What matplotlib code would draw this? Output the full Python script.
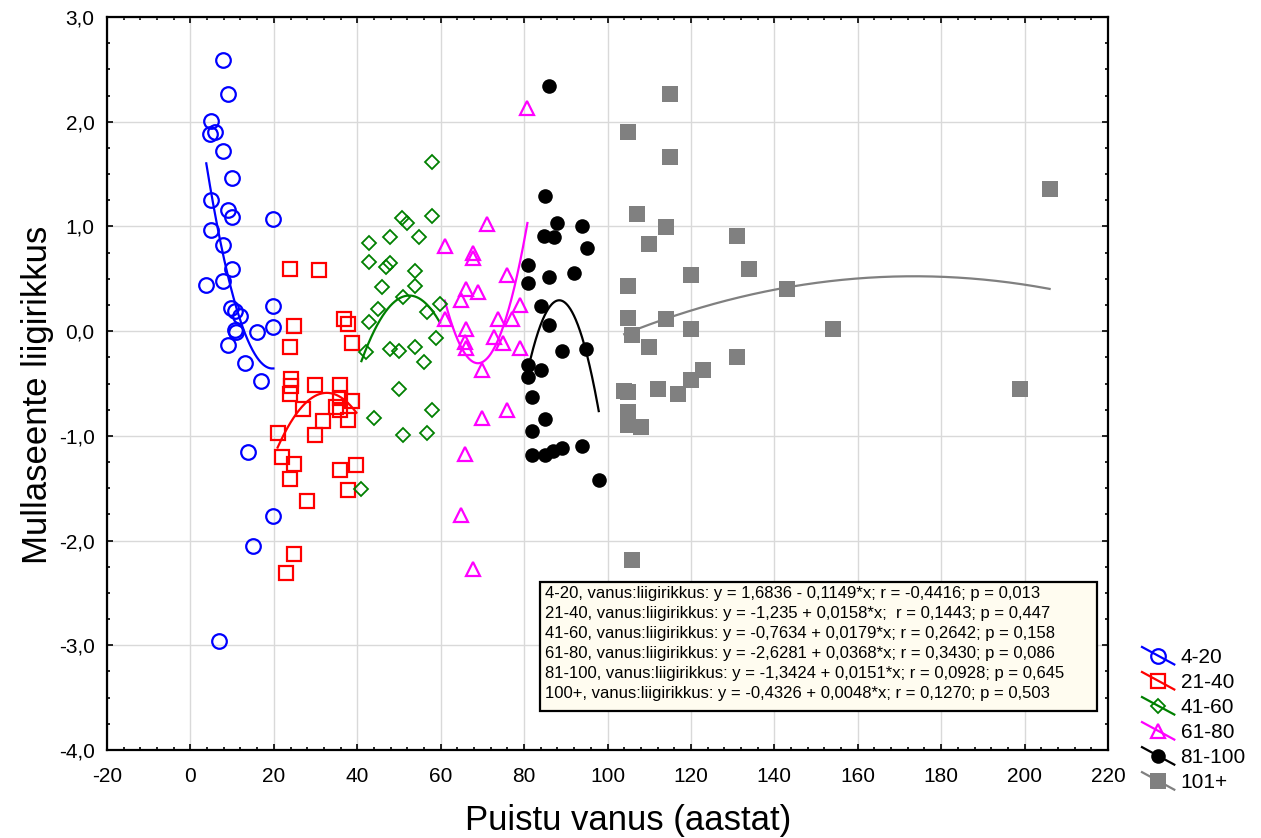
import numpy as np
import matplotlib
matplotlib.use("Agg")
import matplotlib.pyplot as plt
from matplotlib.lines import Line2D
from matplotlib.patches import Rectangle
from matplotlib.legend_handler import HandlerLine2D
from matplotlib.ticker import MultipleLocator, FuncFormatter

plt.rcParams['font.family'] = ['Liberation Sans', 'DejaVu Sans']

# ---------------- data ----------------
x_4_20 = [7.8, 8.9, 5.0, 6.0, 4.8, 7.8, 9.9, 4.9, 8.9, 10.0, 19.9, 4.9, 7.8, 9.9, 3.8, 7.8,
          9.8, 10.8, 11.8, 19.9, 10.8, 11.0, 16.0, 19.9, 8.9, 13.0, 16.9, 13.9, 19.9, 14.9, 6.9]
y_4_20 = [2.59, 2.26, 2.01, 1.90, 1.88, 1.72, 1.46, 1.25, 1.16, 1.09, 1.07, 0.97, 0.82, 0.59, 0.44, 0.48,
          0.22, 0.19, 0.14, 0.24, 0.01, -0.01, -0.01, 0.04, -0.13, -0.30, -0.48, -1.15, -1.77, -2.05, -2.96]

x_21_40 = [23.9, 30.8, 36.8, 37.7, 24.8, 23.9, 38.8, 24.0, 24.0, 23.9, 29.8, 35.8, 27.0, 31.8, 34.8,
           35.9, 35.9, 38.8, 37.8, 20.9, 29.8, 21.9, 24.8, 23.9, 35.9, 39.8, 37.8, 27.9, 24.8, 22.9]
y_21_40 = [0.59, 0.58, 0.12, 0.07, 0.05, -0.15, -0.11, -0.46, -0.52, -0.60, -0.51, -0.51, -0.74, -0.86, -0.72,
           -0.64, -0.75, -0.67, -0.85, -0.97, -0.99, -1.20, -1.27, -1.41, -1.33, -1.28, -1.52, -1.62, -2.13, -2.31]

x_41_60 = [57.9, 57.9, 50.7, 52.0, 42.9, 47.9, 54.9, 42.9, 47.9, 46.9, 53.9, 53.9, 46.0, 50.9, 44.9,
           59.8, 56.8, 42.9, 58.9, 42.0, 47.9, 49.9, 53.9, 55.9, 49.9, 57.9, 44.0, 50.9, 56.8, 41.0]
y_41_60 = [1.62, 1.10, 1.08, 1.03, 0.84, 0.90, 0.90, 0.66, 0.65, 0.61, 0.57, 0.43, 0.42, 0.33, 0.21,
           0.26, 0.18, 0.09, -0.07, -0.20, -0.17, -0.19, -0.15, -0.29, -0.55, -0.75, -0.83, -0.99, -0.97, -1.51]

x_61_80 = [80.8, 71.0, 61.0, 67.8, 67.8, 75.9, 66.0, 68.9, 64.8, 79.0, 73.8, 77.0, 61.0, 66.0, 72.8,
           75.0, 65.8, 66.0, 79.0, 69.8, 75.9, 69.8, 65.8, 64.8, 67.8]
y_61_80 = [2.13, 1.02, 0.81, 0.75, 0.70, 0.54, 0.40, 0.37, 0.30, 0.25, 0.12, 0.12, 0.12, 0.02, -0.06,
           -0.11, -0.10, -0.16, -0.16, -0.37, -0.75, -0.83, -1.17, -1.76, -2.27]

x_81_100 = [86.0, 85.0, 88.0, 93.9, 84.8, 87.2, 95.0, 81.0, 92.0, 86.0, 81.0, 84.0, 86.0, 89.0,
            94.9, 81.0, 84.0, 81.0, 82.0, 85.0, 82.0, 82.0, 85.0, 87.0, 89.0, 93.9, 97.9]
y_81_100 = [2.34, 1.29, 1.03, 1.00, 0.91, 0.90, 0.79, 0.63, 0.56, 0.52, 0.46, 0.24, 0.06, -0.19,
            -0.17, -0.32, -0.37, -0.44, -0.63, -0.84, -0.95, -1.18, -1.18, -1.14, -1.12, -1.10, -1.42]

x_101 = [114.9, 105.0, 114.9, 107.0, 114.0, 110.0, 131.0, 120.0, 133.9, 105.0, 143.0, 105.0, 114.0, 120.0,
         154.1, 105.9, 110.0, 131.0, 123.0, 120.0, 112.0, 116.9, 104.0, 105.0, 105.0, 105.0, 108.0, 105.9,
         199.0, 206.0]
y_101 = [2.26, 1.90, 1.66, 1.12, 0.99, 0.83, 0.91, 0.54, 0.59, 0.43, 0.40, 0.13, 0.12, 0.02,
         0.02, -0.04, -0.15, -0.25, -0.37, -0.47, -0.55, -0.60, -0.57, -0.58, -0.77, -0.90, -0.92, -2.19,
         -0.55, 1.36]

group_labels = ['4-20', '21-40', '41-60', '61-80', '81-100', '101+']
box_lines = [
    '4-20, vanus:liigirikkus: y = 1,6836 - 0,1149*x; r = -0,4416; p = 0,013',
    '21-40, vanus:liigirikkus: y = -1,235 + 0,0158*x;  r = 0,1443; p = 0,447',
    '41-60, vanus:liigirikkus: y = -0,7634 + 0,0179*x; r = 0,2642; p = 0,158',
    '61-80, vanus:liigirikkus: y = -2,6281 + 0,0368*x; r = 0,3430; p = 0,086',
    '81-100, vanus:liigirikkus: y = -1,3424 + 0,0151*x; r = 0,0928; p = 0,645',
    '100+, vanus:liigirikkus: y = -0,4326 + 0,0048*x; r = 0,1270; p = 0,503',
]
x_label = 'Puistu vanus (aastat)'
y_label = 'Mullaseente liigirikkus'

# ---------------- styles ----------------
styles = [
    dict(color='#0000ff', marker='o', ms=10.5, mfc='none', mew=1.6),
    dict(color='#ff0000', marker='s', ms=10.0, mfc='none', mew=1.6),
    dict(color='#008000', marker='D', ms=7.2, mfc='none', mew=1.3),
    dict(color='#ff00ff', marker='^', ms=10.0, mfc='none', mew=1.6),
    dict(color='#000000', marker='o', ms=10.5, mfc='#000000', mew=0),
    dict(color='#808080', marker='s', ms=11.5, mfc='#808080', mew=0),
]
groups = [(x_4_20, y_4_20), (x_21_40, y_21_40), (x_41_60, y_41_60),
          (x_61_80, y_61_80), (x_81_100, y_81_100), (x_101, y_101)]


class DiagHandler(HandlerLine2D):
    def create_artists(self, legend, orig_handle, xdescent, ydescent, width, height,
                       fontsize, trans):
        x0 = -xdescent
        x1 = x0 + width
        ym = -ydescent + height / 2.0
        dy = 0.42 * fontsize
        ln = Line2D([x0, x1], [ym + dy, ym - dy], color=orig_handle.get_color(),
                    lw=orig_handle.get_linewidth())
        mk = Line2D([(x0 + x1) / 2.0], [ym], ls='none', marker=orig_handle.get_marker(),
                    ms=orig_handle.get_markersize(), mfc=orig_handle.get_markerfacecolor(),
                    mec=orig_handle.get_markeredgecolor(), mew=orig_handle.get_markeredgewidth())
        ln.set_transform(trans)
        mk.set_transform(trans)
        return [ln, mk]


W, H = 1261, 838
fig = plt.figure(figsize=(W / 100, H / 100), dpi=100)
ax = fig.add_axes([107 / W, 1 - 750 / H, (1108 - 107) / W, (750 - 17) / H])

handles = []
for (gx, gy), st in zip(groups, styles):
    gx = np.asarray(gx); gy = np.asarray(gy)
    coef = np.polyfit(gx, gy, 2)
    xs = np.linspace(gx.min(), gx.max(), 200)
    ax.plot(xs, np.polyval(coef, xs), color=st['color'], lw=1.6, zorder=2)
    ax.plot(gx, gy, ls='none', marker=st['marker'], ms=st['ms'], mfc=st['mfc'],
            mec=st['color'], mew=st['mew'], zorder=3)
    handles.append(Line2D([], [], color=st['color'], lw=1.6, marker=st['marker'],
                          ms=st['ms'], mfc=st['mfc'], mec=st['color'], mew=st['mew']))

ax.set_xlim(-20, 220)
ax.set_ylim(-4, 3)
ax.xaxis.set_major_locator(MultipleLocator(20))
ax.xaxis.set_minor_locator(MultipleLocator(4))
ax.yaxis.set_major_locator(MultipleLocator(1))
ax.yaxis.set_minor_locator(MultipleLocator(0.25))
ax.yaxis.set_major_formatter(FuncFormatter(lambda v, p: f'{v:.1f}'.replace('.', ',')))
ax.xaxis.set_major_formatter(FuncFormatter(lambda v, p: f'{v:.0f}'))
ax.tick_params(which='both', direction='in', top=True, right=True, labelsize=15, width=1.2)
ax.tick_params(which='major', length=4)
ax.tick_params(which='minor', length=2.5)
ax.tick_params(axis='x', which='major', pad=12)
ax.tick_params(axis='y', which='major', pad=9)
ax.grid(True, which='major', color='#d9d9d9', lw=1.0, zorder=0)
ax.set_axisbelow(True)
for sp in ax.spines.values():
    sp.set_linewidth(1.6)

fig.text(628 / W, 1 - 820 / H, x_label, ha='center', va='center', fontsize=25)
fig.text(38 / W, 1 - 395 / H, y_label, ha='center', va='center', fontsize=25, rotation=90)

# statistics box
fig.add_artist(Rectangle((540 / W, 1 - 711 / H), (1097 - 540) / W, (711 - 582) / H,
                         transform=fig.transFigure, fc='#fffcf0', ec='black', lw=1.6, zorder=5))
fig.text(545 / W, 1 - 586 / H, '\n'.join(box_lines), ha='left', va='top', fontsize=12,
         linespacing=1.41, zorder=6)

fig.legend(handles, group_labels, loc='upper left', bbox_to_anchor=(1142 / W, 1 - 648 / H),
           frameon=False, fontsize=15, handlelength=1.55, handletextpad=0.3,
           labelspacing=0.29, borderpad=0, borderaxespad=0,
           handler_map={Line2D: DiagHandler()})

fig.savefig('out.png', dpi=100)
